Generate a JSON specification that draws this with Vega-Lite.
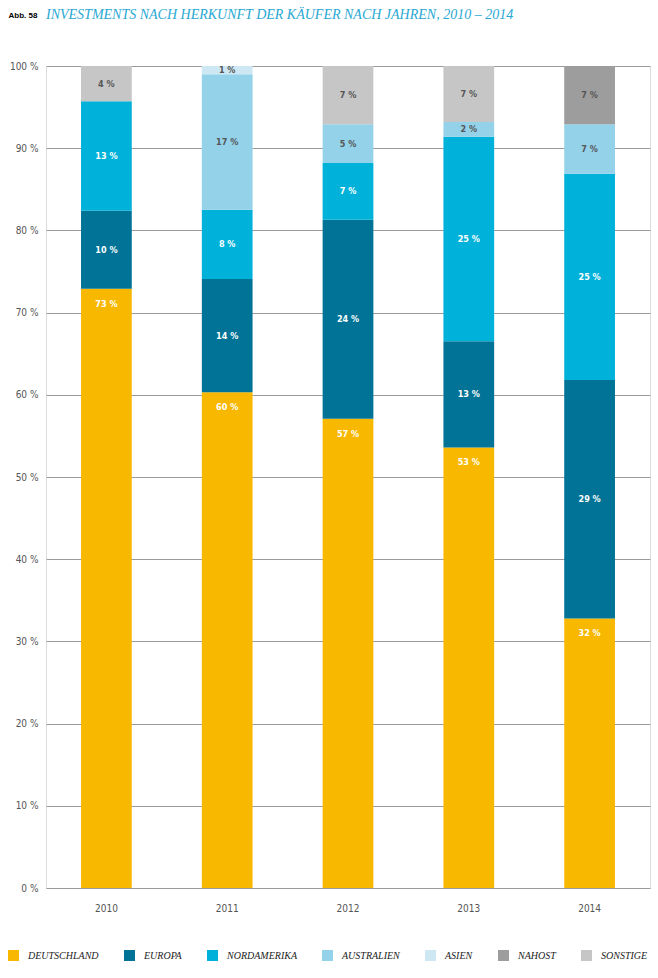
{
  "$schema": "https://vega.github.io/schema/vega-lite/v6.json",
  "width": 604,
  "height": 822,
  "autosize": {"type": "none"},
  "padding": {"left": 46, "top": 66, "right": 8, "bottom": 90},
  "background": "white",
  "title": {
    "text": "INVESTMENTS NACH HERKUNFT DER KÄUFER NACH JAHREN, 2010 – 2014",
    "anchor": "start",
    "frame": "group",
    "offset": -6,
    "dy": 16,
    "baseline": "alphabetic",
    "font": "Liberation Serif",
    "fontStyle": "italic",
    "fontWeight": "normal",
    "fontSize": 14,
    "color": "#29A8D3"
  },
  "data": {
    "values": [
      {"jahr": "2010", "region": "Deutschland", "order": 1, "wert": 72.9, "label": "73 %"},
      {"jahr": "2010", "region": "Europa", "order": 2, "wert": 9.5, "label": "10 %"},
      {"jahr": "2010", "region": "Nordamerika", "order": 3, "wert": 13.3, "label": "13 %"},
      {"jahr": "2010", "region": "Sonstige", "order": 7, "wert": 4.3, "label": "4 %"},
      {"jahr": "2011", "region": "Deutschland", "order": 1, "wert": 60.3, "label": "60 %"},
      {"jahr": "2011", "region": "Europa", "order": 2, "wert": 13.8, "label": "14 %"},
      {"jahr": "2011", "region": "Nordamerika", "order": 3, "wert": 8.4, "label": "8 %"},
      {"jahr": "2011", "region": "Australien", "order": 4, "wert": 16.5, "label": "17 %"},
      {"jahr": "2011", "region": "Asien", "order": 5, "wert": 1.0, "label": "1 %"},
      {"jahr": "2012", "region": "Deutschland", "order": 1, "wert": 57.1, "label": "57 %"},
      {"jahr": "2012", "region": "Europa", "order": 2, "wert": 24.2, "label": "24 %"},
      {"jahr": "2012", "region": "Nordamerika", "order": 3, "wert": 6.9, "label": "7 %"},
      {"jahr": "2012", "region": "Australien", "order": 4, "wert": 4.7, "label": "5 %"},
      {"jahr": "2012", "region": "Sonstige", "order": 7, "wert": 7.1, "label": "7 %"},
      {"jahr": "2013", "region": "Deutschland", "order": 1, "wert": 53.6, "label": "53 %"},
      {"jahr": "2013", "region": "Europa", "order": 2, "wert": 12.9, "label": "13 %"},
      {"jahr": "2013", "region": "Nordamerika", "order": 3, "wert": 24.9, "label": "25 %"},
      {"jahr": "2013", "region": "Australien", "order": 4, "wert": 1.8, "label": "2 %"},
      {"jahr": "2013", "region": "Sonstige", "order": 7, "wert": 6.8, "label": "7 %"},
      {"jahr": "2014", "region": "Deutschland", "order": 1, "wert": 32.8, "label": "32 %"},
      {"jahr": "2014", "region": "Europa", "order": 2, "wert": 29.0, "label": "29 %"},
      {"jahr": "2014", "region": "Nordamerika", "order": 3, "wert": 25.1, "label": "25 %"},
      {"jahr": "2014", "region": "Australien", "order": 4, "wert": 6.0, "label": "7 %"},
      {"jahr": "2014", "region": "Nahost", "order": 6, "wert": 7.1, "label": "7 %"}
    ]
  },
  "transform": [
    {"stack": "wert", "groupby": ["jahr"], "sort": [{"field": "order", "order": "ascending"}], "as": ["v0", "v1"]},
    {"calculate": "(datum.v0 + datum.v1) / 2", "as": "mid"}
  ],
  "encoding": {
    "x": {
      "field": "jahr",
      "type": "nominal",
      "scale": {"paddingInner": 0.58, "paddingOuter": 0.29},
      "axis": {
        "title": null,
        "labelAngle": 0,
        "ticks": false,
        "domain": false,
        "labelPadding": 15,
        "labelFont": "DejaVu Sans Condensed",
        "labelFontSize": 10,
        "labelColor": "#555555"
      }
    }
  },
  "layer": [
    {
      "mark": {"type": "bar"},
      "encoding": {
        "y": {
          "field": "v0",
          "type": "quantitative",
          "scale": {"domain": [0, 100], "nice": false},
          "axis": {
            "title": "Abb. 58",
            "titleAngle": 0,
            "titleX": -38,
            "titleY": -49,
            "titleAlign": "left",
            "titleBaseline": "alphabetic",
            "titleFont": "Liberation Sans",
            "titleFontSize": 8,
            "titleFontWeight": "bold",
            "titleColor": "#000000",
            "values": [0, 10, 20, 30, 40, 50, 60, 70, 80, 90, 100],
            "labelExpr": "datum.value + ' %'",
            "ticks": false,
            "domain": false,
            "labelPadding": 8,
            "labelFont": "DejaVu Sans Condensed",
            "labelFontSize": 10,
            "labelColor": "#555555",
            "grid": true,
            "gridColor": "#9a9a9a",
            "gridWidth": 1
          }
        },
        "y2": {"field": "v1"},
        "color": {
          "field": "region",
          "type": "nominal",
          "scale": {
            "domain": ["Deutschland", "Europa", "Nordamerika", "Australien", "Asien", "Nahost", "Sonstige"],
            "range": ["#F9B800", "#007396", "#00B2DA", "#94D2EA", "#CDE8F3", "#9D9D9D", "#C6C6C6"]
          },
          "legend": {
            "title": null,
            "orient": "none",
            "legendX": -38,
            "legendY": 884,
            "direction": "horizontal",
            "columns": 7,
            "columnPadding": 25,
            "symbolType": "square",
            "symbolSize": 121,
            "symbolStrokeWidth": 0,
            "labelExpr": "upper(datum.label)",
            "labelFont": "Liberation Serif",
            "labelFontStyle": "italic",
            "labelFontSize": 10,
            "labelColor": "#222222",
            "labelOffset": 9
          }
        }
      }
    },
    {
      "transform": [{"filter": "datum.region === 'Deutschland'"}],
      "mark": {"type": "text", "dy": 15, "baseline": "middle", "font": "DejaVu Sans Condensed", "fontWeight": "bold", "fontSize": 9, "color": "white"},
      "encoding": {
        "y": {"field": "v1", "type": "quantitative"},
        "text": {"field": "label"}
      }
    },
    {
      "transform": [{"filter": "datum.region !== 'Deutschland'"}],
      "mark": {"type": "text", "baseline": "middle", "font": "DejaVu Sans Condensed", "fontWeight": "bold", "fontSize": 9},
      "encoding": {
        "y": {"field": "mid", "type": "quantitative"},
        "text": {"field": "label"},
        "color": {
          "condition": {"test": "datum.region === 'Europa' || datum.region === 'Nordamerika'", "value": "white"},
          "value": "#555555"
        }
      }
    }
  ]
}
